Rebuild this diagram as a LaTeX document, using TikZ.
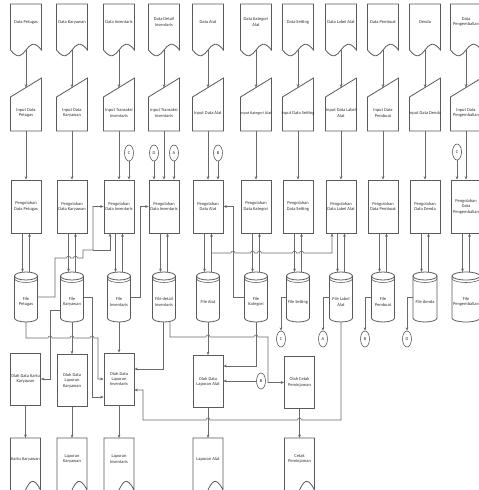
\documentclass[tikz,border=0pt]{standalone}
\usepackage{fontspec}
\setmainfont{Carlito}
\usetikzlibrary{arrows.meta,shapes.geometric}
\definecolor{lc}{HTML}{6A6A6A}
\definecolor{bc}{HTML}{5A5A5A}
\definecolor{tc}{HTML}{303030}
\tikzset{
  ln/.style={draw=lc, line width=0.55pt},
  bx/.style={draw=bc, line width=0.8pt, fill=white},
  arr/.style={ln, -{Stealth[length=3.4pt,width=2.8pt]}},
  txt/.style={align=center, inner sep=0pt, font=\fontsize{4.5}{5.4}\selectfont, text=tc},
  area/.style={draw=none, inner sep=0pt, outer sep=0pt},
  cc/.style={ellipse, draw=bc, line width=0.6pt, fill=white, minimum width=9pt, minimum height=16pt, inner sep=0pt, font=\fontsize{4.5}{5.4}\selectfont, text=tc}
}
\newcommand\TopDoc[3]{%
  \draw[bx] ({#2-15.5},4) -- ({#2-15.5},50) .. controls (#2,70) and (#2,30) .. ({#2+15.5},50) -- ({#2+15.5},4) -- cycle;
  \node[area, minimum width=31pt, minimum height=46pt] (#1) at (#2,27) {};
  \node[txt] at (#2,22) {#3};
}
\newcommand\ManIn[3]{%
  \draw[bx] ({#2-15.5},97) -- ({#2+15.5},78) -- ({#2+15.5},131) -- ({#2-15.5},131) -- cycle;
  \node[area, minimum width=31pt, minimum height=53pt] (#1) at (#2,104.5) {};
  \node[txt] at (#2,113) {#3};
}
\newcommand\Proc[5]{%
  \node[bx, txt, minimum width=30pt, minimum height=#4pt] (#1) at (#2,#3) {#5};
}
\newcommand\Cyl[5]{%
  \draw[bx] ({#2-#3},276) -- ({#2-#3},318) arc(180:0:#3 and 4) -- ({#2+#3},276);
  \draw[bx] (#2,276) ellipse (#3 and 4);
  \draw[ln, draw=bc] ({#2-#3},278.5) arc(180:0:#3 and 4);
  \node[area, minimum width=#4pt, minimum height=50pt] (#1) at (#2,297) {};
  \node[txt] at (#2,302) {#5};
}
\newcommand\BotDoc[3]{%
  \draw[bx] ({#2-15},438) -- ({#2-15},490) .. controls (#2,520) and (#2,460) .. ({#2+15},490) -- ({#2+15},438) -- cycle;
  \node[area, minimum width=30pt, minimum height=52pt] (#1) at (#2,464) {};
  \node[txt] at (#2,459) {#3};
}
\begin{document}
\begin{tikzpicture}[x=1pt,y=-1pt]
\fill[white] (0,0) rectangle (479,490);
\useasboundingbox (0,0) rectangle (479,490);
% ---- top documents
\TopDoc{dPet}{26}{Data Petugas}
\TopDoc{dKar}{72}{Data Karyawan}
\TopDoc{dInv}{119}{Data Inventaris}
\TopDoc{dDet}{164}{Data Detail\\Inventaris}
\TopDoc{dAla}{208}{Data Alat}
\TopDoc{dKat}{256}{Data Kategori\\Alat}
\TopDoc{dSet}{298}{Data Setting}
\TopDoc{dLab}{341}{Data Label Alat}
\TopDoc{dPem}{383}{Data Pembuat}
\TopDoc{dDen}{425}{Denda}
\TopDoc{dPen}{466}{Data\\Pengembalian}
% ---- manual inputs
\ManIn{iPet}{26}{Input Data\\Petugas}
\ManIn{iKar}{72}{Input Data\\Karyawan}
\ManIn{iInv}{119}{Input Transaksi\\Inventaris}
\ManIn{iDet}{164}{Input Transaksi\\Inventaris}
\ManIn{iAla}{208}{Input Data Alat}
\ManIn{iKat}{256}{{\fontsize{4.1}{5}\selectfont Input Kategori Alat}}
\ManIn{iSet}{298}{Input Data Setting}
\ManIn{iLab}{341}{Input Data Label\\Alat}
\ManIn{iPem}{383}{Input Data\\Pembuat}
\ManIn{iDen}{425}{Input Data Denda}
\ManIn{iPen}{466}{Input Data\\Pengembalian}
% ---- processes
\Proc{pPet}{26}{206.5}{53}{Pengolahan\\Data Petugas}
\Proc{pKar}{72}{206.5}{53}{Pengolahan\\Data Karyawan}
\Proc{pInv}{119}{206.5}{53}{Pengolahan\\Data Inventaris}
\Proc{pDet}{164}{206.5}{53}{Pengolahan\\Data Inventaris}
\Proc{pAla}{208}{206.5}{53}{Pengolahan\\Data Alat}
\Proc{pKat}{256}{206.5}{53}{Pengolahan\\Data Kategori}
\Proc{pSet}{298}{206.5}{53}{Pengolahan\\Data Setting}
\Proc{pLab}{341}{206.5}{53}{Pengolahan\\Data Label Alat}
\Proc{pPem}{383}{206.5}{53}{Pengolahan\\Data Pembuat}
\Proc{pDen}{425}{206.5}{53}{Pengolahan\\Data Denda}
\Proc{pPen}{466}{206.5}{53}{Pengolahan\\Data\\Pengembalian}
% ---- files
\Cyl{fPet}{26}{11.5}{23}{File\\Petugas}
\Cyl{fKar}{72}{11.5}{23}{File\\Karyawan}
\Cyl{fInv}{119}{11.5}{23}{File\\Inventaris}
\Cyl{fDet}{164}{11.5}{23}{File detail\\Inventaris}
\Cyl{fAla}{208}{11.5}{23}{File Alat}
\Cyl{fKat}{256}{11.5}{23}{File\\Kategori}
\Cyl{fSet}{298}{11.5}{23}{File Setting}
\Cyl{fLab}{341}{11.5}{23}{File Label\\Alat}
\Cyl{fPem}{383}{11.5}{23}{File\\Pembuat}
\Cyl{fDen}{425}{12}{24}{File denda}
\Cyl{fPen}{466}{14}{28}{File\\Pengembalian}
% ---- output processes
\Proc{oKar}{25.5}{379}{52}{Olah Data Kartu\\Karyawan}
\Proc{oLap}{72}{380.5}{52}{Olah Data\\Laporan\\Karyawan}
\Proc{oInv}{119}{379}{52}{Olah Data\\Laporan\\Inventaris}
\Proc{oAla}{208}{381.5}{52}{Olah Data\\Laporan Alat}
\Proc{oCet}{299.5}{382.5}{52}{Olah Cetak\\Peminjaman}
% ---- output documents
\BotDoc{bKar}{25.5}{Kartu Karyawan}
\BotDoc{bLap}{72}{Laporan\\Karyawan}
\BotDoc{bInv}{119}{Laporan\\Inventaris}
\BotDoc{bAla}{208}{Laporan Alat}
\BotDoc{bCet}{299.5}{Cetak\\Peminjaman}
% ---- off-page connectors
\node[cc] (cC1) at (129,153) {C};
\node[cc] (cD1) at (154,153) {D};
\node[cc] (cA1) at (174,153) {A};
\node[cc] (cB1) at (218,153) {B};
\node[cc] (cC3) at (457,152) {C};
\node[cc] (cC2) at (281,339) {C};
\node[cc] (cA2) at (323,339) {A};
\node[cc] (cB2) at (365,339) {B};
\node[cc] (cD2) at (407,339) {D};
\node[cc] (cB3) at (261,381) {B};
% ---- vertical flow
\foreach \n in {Pet,Kar,Inv,Det,Ala,Kat,Set,Lab,Pem,Den,Pen}{
  \draw[arr] (d\n.south) -- ([yshift=-9.5pt]i\n.north);
  \draw[arr] (i\n.south) -- (p\n.north);
  \draw[arr] ([xshift=-3.5pt]p\n.south) -- ([xshift=-3.5pt]f\n.north);
  \draw[arr] ([xshift=3.5pt]f\n.north) -- ([xshift=3.5pt]p\n.south);
}
\draw[arr] (cC1.south) -- (cC1.south |- pInv.north);
\draw[arr] (cD1.south) -- (cD1.south |- pDet.north);
\draw[arr] (cA1.south) -- (cA1.south |- pDet.north);
\draw[arr] (cB1.south) -- (cB1.south |- pAla.north);
\draw[arr] (cC3.south) -- (cC3.south |- pPen.north);
\draw[arr] (fSet.west) -| (cC2.north);
\draw[arr] (fLab.west) -| (cA2.north);
\draw[arr] (fPem.west) -| (cB2.north);
\draw[arr] (fDen.west) -| (cD2.north);
% ---- links between files and processes
\draw[arr] (fPet.east) -- (55,297) -- (55,258) -- (66.5,258) arc(180:360:2) -- (73.5,258) arc(180:360:2) -- (83,258) -- (83,250) -- (93,250) |- (pInv.west);
\coordinate (jB) at (93,250);
\draw[arr] (jB) -| ([xshift=-9pt]pInv.south);
\draw[arr] (fInv.east) -- (140,297) |- (pDet.west);
\coordinate (jA) at (211.5,253);
\draw[arr] (jA) -- (231,253) arc(180:360:2) -- (250.5,253) arc(180:360:2) -- (257.5,253) arc(180:360:2) -- (292.5,253) arc(180:360:2) -- (299.5,253) arc(180:360:2) -- (332,253) -- ([xshift=-9pt]pLab.south);
\draw[arr] (fKat.west) -- (233,297) |- (pAla.east);
% ---- links to output processes
\draw[arr] (fPet.south) -- (26,338) -- (48,338) arc(180:360:2) -- (70,338) arc(180:360:2) -- (90,338) arc(180:360:2) -- (98,338) |- (oInv.west);
\draw[arr] ([yshift=-13pt]fKar.west) -- (50,310) |- (oKar.east);
\draw[arr] (fKar.south) -- (oLap.north);
\draw[arr] (fKar.east) -- (92,297) |- ([yshift=-18pt]oInv.west);
\draw[arr] (fInv.south) -- (oInv.north);
\draw[arr] ([xshift=-1pt]fDet.south) |- ([yshift=10pt]oInv.east);
\draw[arr] ([xshift=6pt]fDet.south) -- (170,337) -- (206,337) arc(180:360:2) -- (254,337) arc(180:360:2) -- (268,337) |- (oCet.west);
\draw[arr] (fAla.south) -- (oAla.north);
\draw[arr] (fKat.south) |- ([yshift=15.5pt]oAla.east);
\draw[arr] (cB3.west) -- (cB3.west -| oAla.east);
\draw[arr] (fLab.south) -- (341,420) -- (301.5,420) arc(0:-180:2) -- (210,420) arc(0:-180:2) -- (143,420) |- ([yshift=-11pt]oInv.east);
% ---- outputs
\draw[arr] (oKar.south) -- (bKar.north);
\draw[arr] (oLap.south) -- (bLap.north);
\draw[arr] (oInv.south) -- (bInv.north);
\draw[arr] (oAla.south) -- (bAla.north);
\draw[arr] (oCet.south) -- (bCet.north);
\end{tikzpicture}
\end{document}
